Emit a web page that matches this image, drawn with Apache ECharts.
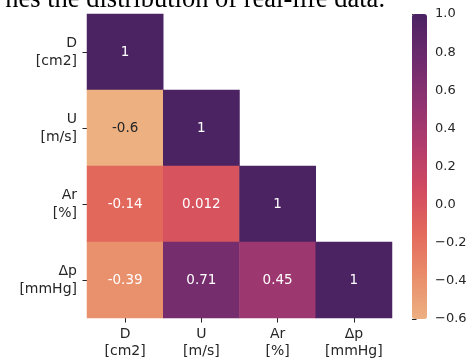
<!DOCTYPE html>
<html>
<head>
<meta charset="utf-8">
<script src="https://cdn.jsdelivr.net/npm/echarts@6/dist/echarts.min.js"></script>
<style>html,body{margin:0;padding:0;background:#fff}#c{width:473px;height:360px}</style>
</head>
<body>
<div id="c"></div>
<script>
const categories = ["D\n[cm2]", "U\n[m/s]", "Ar\n[%]", "\u0394p\n[mmHg]"];
const row0 = [1];
const row1 = [-0.6, 1];
const row2 = [-0.14, 0.012, 1];
const row3 = [-0.39, 0.71, 0.45, 1];
const colorbarTicks = [-0.6, -0.4, -0.2, 0.0, 0.2, 0.4, 0.6, 0.8, 1.0];
const captionText = "nes the distribution of real-life data.";

const rows = [row0, row1, row2, row3];
const cells = [];
rows.forEach((r, i) => r.forEach((v, j) => cells.push([j, i, v])));

const flare = ['#edb081', '#e98d6b', '#e3685c', '#d14a61', '#b13c6c', '#8f3371', '#6c2b6d', '#4b2362'];
const txt = '#262626';
const cellData = cells.map(c => ({value: c, label: {color: c[2] < -0.5 ? txt : '#fff'}}));

const chart = echarts.init(document.getElementById('c'), null, {renderer: 'canvas'});
chart.setOption({
  animation: false,
  backgroundColor: '#fff',
  textStyle: {fontFamily: 'DejaVu Sans'},
  graphic: [{
    type: 'text', right: 88, top: -13,
    style: {text: captionText, font: '26.5px "Liberation Serif"', fill: '#000'}
  }],
  grid: [
    {left: 87, top: 14, width: 305, height: 305},
    {left: 412, top: 14, width: 15, height: 305}
  ],
  xAxis: [{
    type: 'category', data: categories, gridIndex: 0, position: 'bottom',
    axisLine: {show: false},
    axisTick: {show: true, alignWithLabel: true, length: 4.5, lineStyle: {color: txt, width: 1}},
    axisLabel: {color: txt, fontSize: 14, lineHeight: 17, margin: 8, fontFamily: 'DejaVu Sans'},
    splitLine: {show: false}
  }, {
    type: 'value', gridIndex: 1, show: false, min: 0, max: 1
  }],
  yAxis: [{
    type: 'category', data: categories, gridIndex: 0, inverse: true,
    axisLine: {show: false},
    axisTick: {show: true, alignWithLabel: true, length: 4.5, lineStyle: {color: txt, width: 1}},
    axisLabel: {color: txt, fontSize: 14, lineHeight: 18, margin: 10, align: 'right', fontFamily: 'DejaVu Sans'},
    splitLine: {show: false}
  }, {
    type: 'value', gridIndex: 1, position: 'right', min: -0.6, max: 1.0, interval: 0.2,
    axisLine: {show: false},
    axisTick: {show: true, length: 4.5, lineStyle: {color: txt, width: 1}},
    axisLabel: {color: txt, fontSize: 13, margin: 8, fontFamily: 'DejaVu Sans',
      formatter: v => { const r = Math.round(v * 10) / 10; return (r < 0 ? '\u2212' : '') + Math.abs(r).toFixed(1); }},
    splitLine: {show: false}
  }],
  visualMap: {
    type: 'continuous', min: -0.6, max: 1.0, dimension: 2, seriesIndex: 0,
    inRange: {color: flare},
    left: 412, top: 14, itemWidth: 15, itemHeight: 305, padding: 0,
    calculable: false, text: null, showLabel: false, realtime: false, hoverLink: false
  },
  series: [{
    type: 'heatmap', xAxisIndex: 0, yAxisIndex: 0, data: cellData,
    label: {
      show: true, fontSize: 13.5, fontFamily: 'DejaVu Sans',
      formatter: p => String(p.value[2])
    },
    itemStyle: {borderWidth: 0},
    emphasis: {disabled: true}
  }, {
    type: 'line', xAxisIndex: 1, yAxisIndex: 1, data: [], silent: true
  }]
});
</script>
</body>
</html>
